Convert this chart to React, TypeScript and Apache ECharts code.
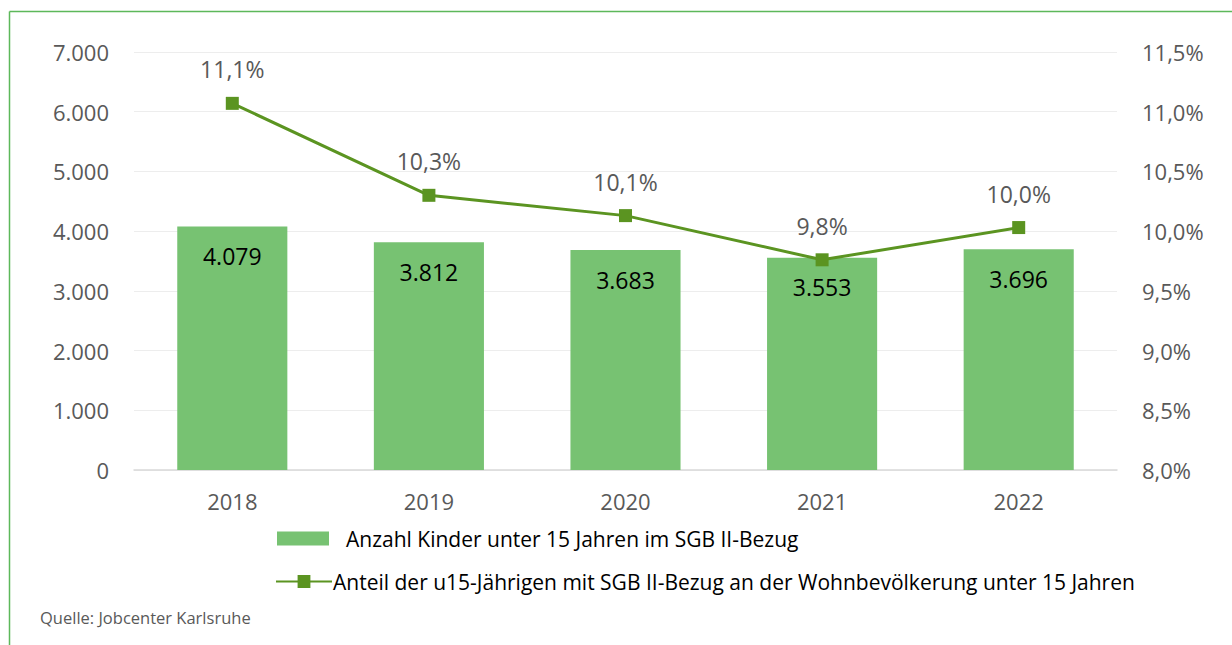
import React, { useEffect, useRef } from "react";
import * as echarts from "echarts";

const categories = ["2018", "2019", "2020", "2021", "2022"];
const kinderCounts = [4079, 3812, 3683, 3553, 3696];
const anteilPercent = [11.07, 10.3, 10.13, 9.76, 10.03];
const barName = "Anzahl Kinder unter 15 Jahren im SGB II-Bezug";
const lineName = "Anteil der u15-Jährigen mit SGB II-Bezug an der Wohnbevölkerung unter 15 Jahren";
const sourceText = "Quelle: Jobcenter Karlsruhe";

const FONT = "Open Sans";

function fmtThousands(v: number): string {
  const s = Math.round(v).toString();
  return s.replace(/\B(?=(\d{3})+(?!\d))/g, ".");
}
function fmtPct(v: number, d: number): string {
  return v.toFixed(d).replace(".", ",") + "%";
}

export default function App() {
  const ref = useRef<HTMLDivElement>(null);
  useEffect(() => {
    if (!ref.current) return;
    const chart = echarts.init(ref.current, null, { renderer: "svg" });
    chart.setOption({
      animation: false,
      backgroundColor: "#ffffff",
      textStyle: { fontFamily: FONT },
      grid: { left: 134, right: 115, top: 52, height: 418, containLabel: false },
      legend: [
        {
          data: [barName],
          left: 272,
          top: 523,
          itemWidth: 52,
          itemHeight: 14,
          icon: "rect",
          textStyle: { fontFamily: FONT, fontSize: 21, color: "#000000", padding: [0, 0, 0, 12] },
          selectedMode: false,
        },
        {
          data: [lineName],
          left: 270,
          top: 566,
          itemWidth: 56,
          itemHeight: 16,
          itemGap: 0,
          textStyle: { fontFamily: FONT, fontSize: 21, color: "#000000", padding: [0, 0, 0, -4] },
          selectedMode: false,
        },
      ],
      xAxis: {
        type: "category",
        data: categories,
        axisLine: { show: true, lineStyle: { color: "#D9D9D9", width: 1.5 } },
        axisTick: { show: false },
        axisLabel: { fontFamily: FONT, fontSize: 22, color: "#595959", margin: 20 },
      },
      yAxis: [
        {
          type: "value",
          min: 0,
          max: 7000,
          interval: 1000,
          axisLine: { show: false },
          axisTick: { show: false },
          splitLine: { show: true, lineStyle: { color: "#EDEDED", width: 1 } },
          axisLabel: {
            fontFamily: FONT,
            fontSize: 22,
            color: "#595959",
            margin: 25,
            formatter: (v: number) => fmtThousands(v),
          },
        },
        {
          type: "value",
          min: 8,
          max: 11.5,
          interval: 0.5,
          axisLine: { show: false },
          axisTick: { show: false },
          splitLine: { show: false },
          axisLabel: {
            fontFamily: FONT,
            fontSize: 22,
            color: "#595959",
            margin: 25,
            formatter: (v: number) => fmtPct(v, 1),
          },
        },
      ],
      series: [
        {
          name: barName,
          type: "bar",
          data: kinderCounts,
          yAxisIndex: 0,
          barWidth: "56%",
          itemStyle: { color: "#77C272" },
          label: {
            show: true,
            position: "insideTop",
            distance: 18,
            fontFamily: FONT,
            fontSize: 23,
            color: "#000000",
            formatter: (p: any) => fmtThousands(p.value),
          },
        },
        {
          name: lineName,
          type: "line",
          data: anteilPercent,
          yAxisIndex: 1,
          symbol: "rect",
          symbolSize: 13,
          lineStyle: { color: "#5B9421", width: 3 },
          itemStyle: { color: "#5B9421" },
          label: {
            show: true,
            position: "top",
            distance: 16,
            fontFamily: FONT,
            fontSize: 23,
            color: "#595959",
            formatter: (p: any) => fmtPct(p.value, 1),
          },
        },
      ],
      graphic: [
        {
          type: "line",
          shape: { x1: 9.5, y1: 11.5, x2: 1232, y2: 11.5 },
          style: { stroke: "#5DB85A", lineWidth: 1.5 },
        },
        {
          type: "line",
          shape: { x1: 9.5, y1: 11.5, x2: 9.5, y2: 645 },
          style: { stroke: "#5DB85A", lineWidth: 1.5 },
        },
        {
          type: "text",
          left: 40,
          top: 609,
          style: { text: sourceText, fontFamily: FONT, fontSize: 16.5, fill: "#595959" },
        },
      ],
    });
    return () => chart.dispose();
  }, []);
  return (
    <div
      ref={ref}
      style={{ position: "fixed", left: 0, top: 0, width: 1232, height: 645 }}
    />
  );
}
